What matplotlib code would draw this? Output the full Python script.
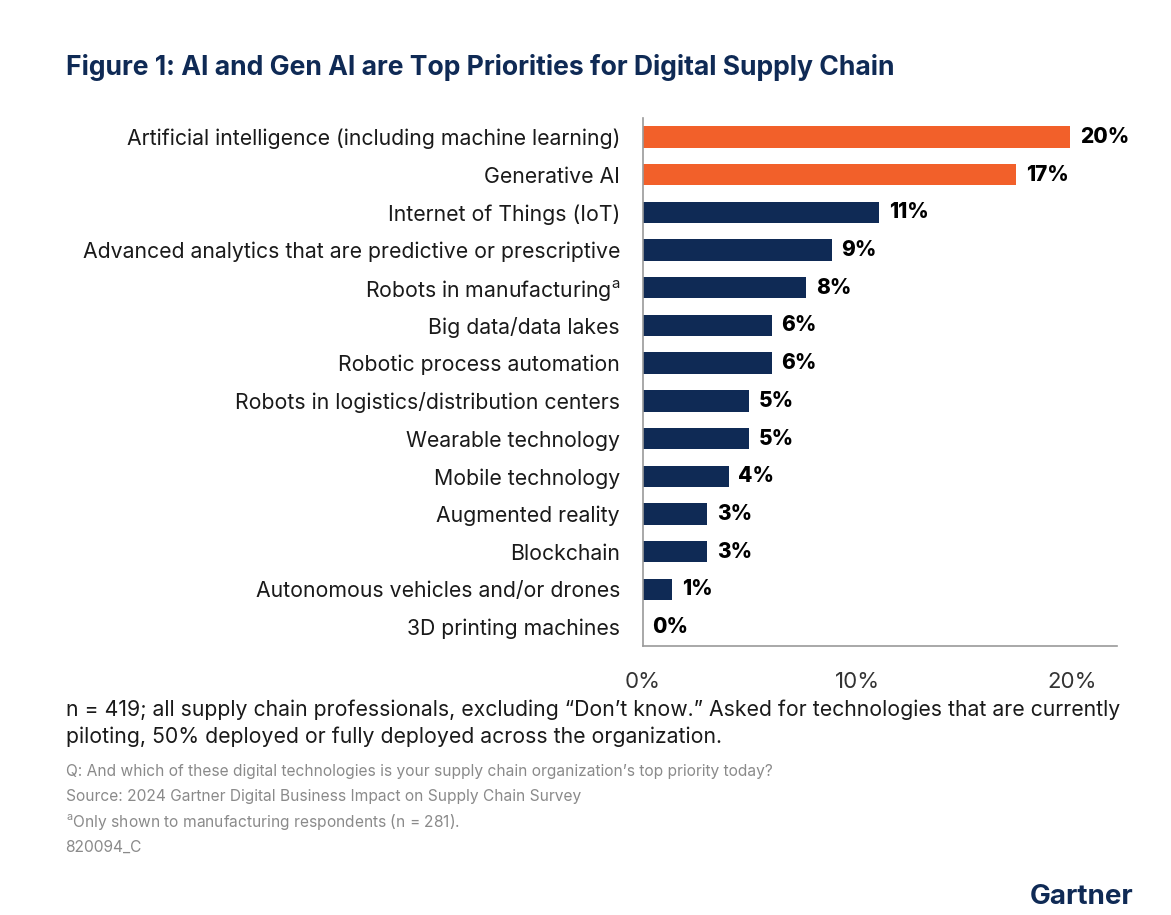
import numpy as np
from matplotlib import pyplot as plt

# data
categories = ['Artificial intelligence (including machine learning)',
              'Generative AI',
              'Internet of Things (IoT)',
              'Advanced analytics that are predictive or prescriptive',
              'Robots in manufacturing$^{\\mathregular{a}}$',
              'Big data/data lakes',
              'Robotic process automation',
              'Robots in logistics/distribution centers',
              'Wearable technology',
              'Mobile technology',
              'Augmented reality',
              'Blockchain',
              'Autonomous vehicles and/or drones',
              '3D printing machines']
values = [19.9, 17.4, 11.0, 8.8, 7.6, 6.0, 6.0, 4.95, 4.95, 4.0, 3.0, 3.0, 1.35, 0.0]
highlight = [True, True] + [False] * 12
x_ticks = [0, 10, 20]
x_ticklabels = ['0%', '10%', '20%']

orange = '#F2602A'
navy = '#0F2A55'

plt.rcParams['font.family'] = ['Inter', 'DejaVu Sans']

fig = plt.figure(figsize=(11.71, 9.15), dpi=100)
ax = fig.add_axes([0.549, 0.294, 0.405, 0.577])

y = np.arange(len(categories))
colors = [orange if h else navy for h in highlight]
bars = ax.barh(y, values, height=0.57, color=colors)

for b, v in zip(bars, values):
    ax.annotate(f'{v:.0f}%', xy=(b.get_width(), b.get_y() + b.get_height() / 2),
                xytext=(7, 0), textcoords='offset points', va='center', ha='left',
                fontsize=15, fontweight='heavy', color='black')

ax.set_ylim(len(categories) - 0.5, -0.5)
ax.set_xlim(0, 22.1)
ax.set_yticks(y)
ax.set_yticklabels(categories, fontsize=15.3, color='#1a1a1a')
ax.set_xticks(x_ticks)
ax.set_xticklabels(x_ticklabels, fontsize=16, color='#333333')
ax.tick_params(axis='y', length=0, pad=16.5)
ax.tick_params(axis='x', length=0, pad=19)

for s in ['top', 'right']:
    ax.spines[s].set_visible(False)
for s in ['left', 'bottom']:
    ax.spines[s].set_color('#9a9a9a')
    ax.spines[s].set_linewidth(1.2)

fig.text(0.056, 0.926, 'Figure 1: AI and Gen AI are Top Priorities for Digital Supply Chain',
         fontsize=19.1, fontweight='bold', color=navy, va='center')

fig.text(0.056, 0.224, 'n = 419; all supply chain professionals, excluding \u201cDon\u2019t know.\u201d '
         'Asked for technologies that are currently', fontsize=15.3, color='#1a1a1a', va='center')
fig.text(0.056, 0.195, 'piloting, 50% deployed or fully deployed across the organization.',
         fontsize=15.3, color='#1a1a1a', va='center')

notes = ['Q: And which of these digital technologies is your supply chain organization\u2019s top priority today?',
         'Source: 2024 Gartner Digital Business Impact on Supply Chain Survey',
         '$^{\\mathregular{a}}$Only shown to manufacturing respondents (n = 281).',
         '820094_C']
for i, t in enumerate(notes):
    fig.text(0.056, 0.157 - i * 0.0275, t, fontsize=11.2, color='#8a8a8a', va='center')

fig.text(0.968, 0.005, 'Gartner', fontsize=20, fontweight='bold', color=navy,
         ha='right', va='bottom')

plt.savefig('out.png', dpi=100)
